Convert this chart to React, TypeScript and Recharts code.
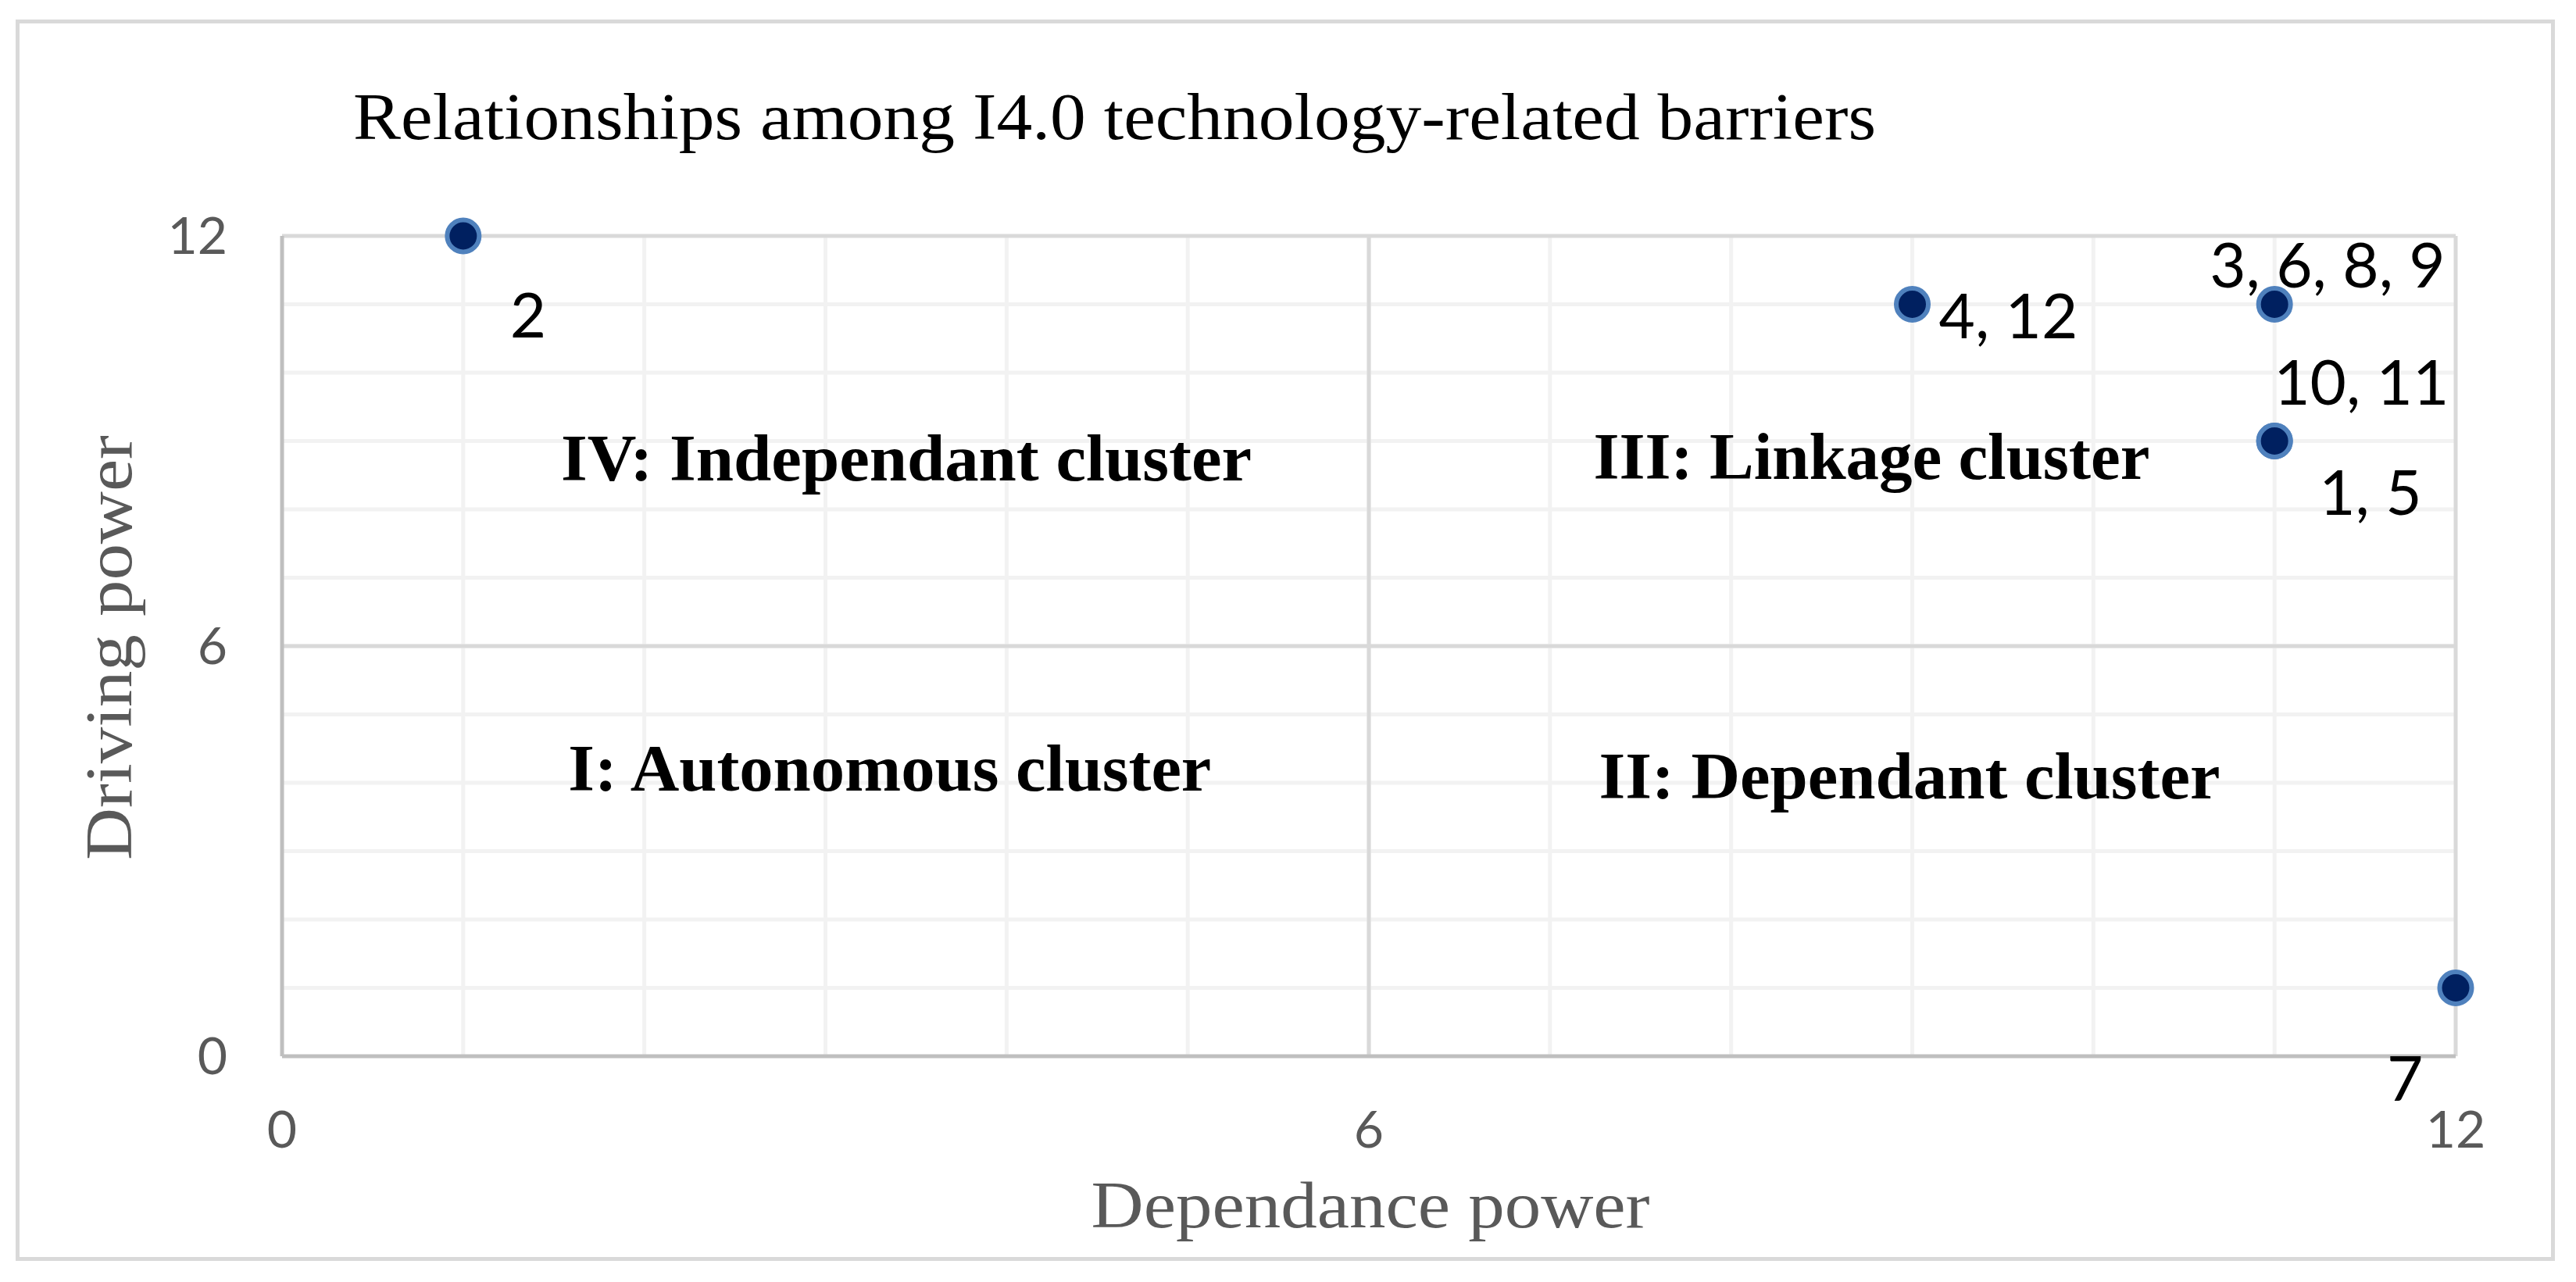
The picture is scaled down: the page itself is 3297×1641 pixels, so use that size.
import React from "react";
import {
  ScatterChart,
  Scatter,
  XAxis,
  YAxis,
  CartesianGrid,
  ReferenceLine,
} from "recharts";

// barriers grouped by position (dependance power, driving power)
const barrierLabels = ["2", "4, 12", "3, 6, 8, 9", "10, 11", "1, 5", "7"];
const dependancePower = [1, 9, 11, 11, 11, 12];
const drivingPower = [12, 11, 11, 9, 9, 1];

const axisTicks = [0, 6, 12];
const minorSteps = [1, 2, 3, 4, 5, 6, 7, 8, 9, 10, 11];
const majorLines = [6, 12];

// quadrant captions, anchored at their left baseline in data units
const clusterNames = [
  "IV: Independant cluster",
  "III: Linkage cluster",
  "I: Autonomous cluster",
  "II: Dependant cluster",
];
const clusterDependance = [1.54, 7.24, 1.58, 7.27];
const clusterDriving = [8.42, 8.45, 3.89, 3.77];

const points = barrierLabels.map((label, i) => ({
  x: dependancePower[i],
  y: drivingPower[i],
  label,
}));
const clusters = clusterNames.map((name, i) => ({
  x: clusterDependance[i],
  y: clusterDriving[i],
  name,
}));

// where each data label sits relative to its marker (px)
const labelOffsets: Record<string, [number, number]> = {
  "2": [60, 130],
  "4, 12": [34, 43],
  "3, 6, 8, 9": [-83, -22],
  "10, 11": [-1, -47],
  "1, 5": [57, 94],
  "7": [-88, 144],
};
const clusterWidths: Record<string, number> = {
  "IV: Independant cluster": 884,
  "III: Linkage cluster": 712,
  "I: Autonomous cluster": 823,
  "II: Dependant cluster": 795,
};

const W = 3297;
const H = 1641;
const SERIF = "'Liberation Serif', 'Times New Roman', serif";
const SANS = "Lato, 'Open Sans', sans-serif";

const PointShape = (props: any) => {
  const { cx, cy, payload } = props;
  const [dx, dy] = labelOffsets[payload.label] || [30, 30];
  return (
    <g>
      <circle cx={cx} cy={cy} r={20.5} fill="#002060" stroke="#4F81BD" strokeWidth={6} />
      <text x={cx + dx} y={cy + dy} fontFamily={SANS} fontSize={80} fill="#000">
        {payload.label}
      </text>
    </g>
  );
};

const ClusterShape = (props: any) => {
  const { cx, cy, payload } = props;
  return (
    <text
      x={cx}
      y={cy}
      fontFamily={SERIF}
      fontWeight="bold"
      fontSize={84}
      fill="#000"
      textLength={clusterWidths[payload.name]}
      lengthAdjust="spacingAndGlyphs"
    >
      {payload.name}
    </text>
  );
};

const XTitle = (props: any) => {
  const { x, y, width } = props.viewBox;
  const len = 715;
  return (
    <text
      x={x + width / 2 - len / 2 + 2}
      y={y + 219}
      fontFamily={SERIF}
      fontSize={84}
      fill="#595959"
      textLength={len}
      lengthAdjust="spacingAndGlyphs"
    >
      Dependance power
    </text>
  );
};

const YTitle = (props: any) => {
  const { x, y, height } = props.viewBox;
  const len = 544;
  const bx = x + 107;
  const cy = y + height / 2 + 2;
  return (
    <text
      x={bx - len / 2}
      y={cy}
      transform={`rotate(-90, ${bx}, ${cy})`}
      fontFamily={SERIF}
      fontSize={84}
      fill="#595959"
      textLength={len}
      lengthAdjust="spacingAndGlyphs"
    >
      Driving power
    </text>
  );
};

export default function App() {
  return (
    <div style={{ position: "absolute", left: 0, top: 0, width: W, height: H, background: "#fff" }}>
      <div
        style={{
          position: "absolute",
          left: 20,
          top: 25,
          width: 3250,
          height: 1589,
          border: "5px solid #D9D9D9",
          boxSizing: "border-box",
        }}
      />
      <div style={{ position: "absolute", left: 0, top: 0 }}>
        <ScatterChart
          width={W}
          height={H}
          margin={{ top: 302, right: 154, bottom: 89, left: 61 }}
        >
          <CartesianGrid
            stroke="#F2F2F2"
            strokeWidth={5}
            horizontalValues={minorSteps}
            verticalValues={minorSteps}
          />
          {majorLines.map((v) => (
            <ReferenceLine key={"vx" + v} x={v} stroke="#D9D9D9" strokeWidth={5} />
          ))}
          {majorLines.map((v) => (
            <ReferenceLine key={"hy" + v} y={v} stroke="#D9D9D9" strokeWidth={5} />
          ))}
          <XAxis
            type="number"
            dataKey="x"
            domain={[0, 12]}
            ticks={axisTicks}
            interval={0}
            height={200}
            tickSize={0}
            tickMargin={70}
            tickLine={false}
            axisLine={{ stroke: "#BFBFBF", strokeWidth: 5 }}
            tick={{ fontFamily: SANS, fontSize: 66, fill: "#595959" }}
            label={<XTitle />}
          />
          <YAxis
            type="number"
            dataKey="y"
            domain={[0, 12]}
            ticks={axisTicks}
            interval={0}
            width={300}
            tickSize={0}
            tickMargin={70}
            tickLine={false}
            axisLine={{ stroke: "#BFBFBF", strokeWidth: 5 }}
            tick={{ fontFamily: SANS, fontSize: 66, fill: "#595959" }}
            label={<YTitle />}
          />
          <Scatter data={clusters} shape={ClusterShape} isAnimationActive={false} />
          <Scatter data={points} shape={PointShape} isAnimationActive={false} />
        </ScatterChart>
      </div>
      <svg
        width={W}
        height={H}
        style={{ position: "absolute", left: 0, top: 0, pointerEvents: "none" }}
      >
        <text
          x={452}
          y={178}
          fontFamily={SERIF}
          fontSize={84}
          fill="#000"
          textLength={1949}
          lengthAdjust="spacingAndGlyphs"
        >
          Relationships among I4.0 technology-related barriers
        </text>
      </svg>
    </div>
  );
}
